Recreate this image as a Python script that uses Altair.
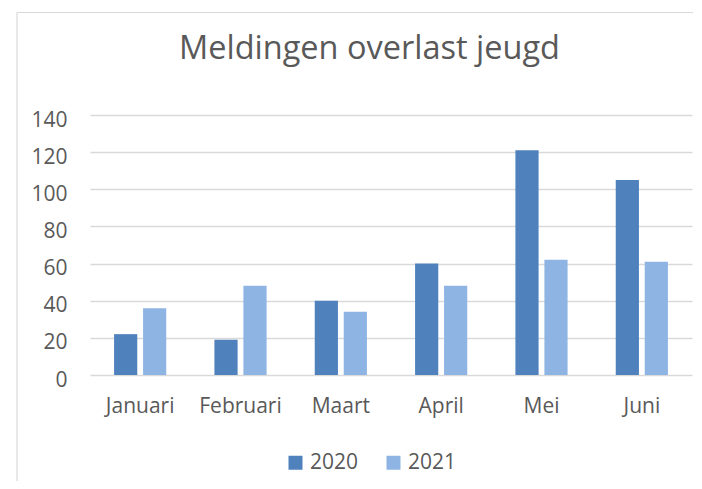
import altair as alt
import pandas as pd

months = ["Januari", "Februari", "Maart", "April", "Mei", "Juni"]
values_2020 = [22, 19, 40, 60, 121, 105]
values_2021 = [36, 48, 34, 48, 62, 61]
years = ["2020", "2021"]
colors = ["#4F81BD", "#8EB4E3"]
y_ticks = [0, 20, 40, 60, 80, 100, 120, 140]
title_text = ["Meldingen overlast jeugd"]

rows = []
for m, a, b in zip(months, values_2020, values_2021):
    rows.append({"maand": m, "jaar": "2020", "aantal": a})
    rows.append({"maand": m, "jaar": "2021", "aantal": b})
df = pd.DataFrame(rows)

FONT = "Open Sans"
TXT = "#595959"
GRID = "#D9D9D9"

bars = alt.Chart(df).mark_bar().encode(
    x=alt.X("maand:N", sort=months, title=None,
            scale=alt.Scale(paddingInner=0.48, paddingOuter=0.24),
            axis=alt.Axis(labelAngle=0, domain=False, ticks=False, tickSize=0,
                          labelPadding=20, labelFontSize=21, labelColor=TXT,
                          labelFont=FONT, grid=False)),
    xOffset=alt.XOffset("jaar:N", sort=years,
                        scale=alt.Scale(paddingInner=0.2, paddingOuter=0)),
    y=alt.Y("aantal:Q", title=None,
            scale=alt.Scale(domain=[0, 140], nice=False),
            axis=alt.Axis(values=y_ticks, domain=False, ticks=False, tickSize=0,
                          labelPadding=23, labelFontSize=21, labelColor=TXT,
                          labelFont=FONT, labelOffset=5,
                          grid=True, gridColor=GRID, gridWidth=1.5)),
    color=alt.Color("jaar:N", sort=years,
                    scale=alt.Scale(domain=years, range=colors),
                    legend=alt.Legend(title=None, orient="none", direction="horizontal",
                                      legendX=195, legendY=337,
                                      symbolType="square", symbolSize=196,
                                      symbolStrokeWidth=0, labelFontSize=21,
                                      labelColor=TXT, labelFont=FONT,
                                      labelOffset=4, columnPadding=24, padding=0)),
)

frame_v = alt.Chart(pd.DataFrame({"k": [0]})).mark_rule(color=GRID, strokeWidth=1.2).encode(
    x=alt.value(-73), y=alt.value(-102.5), y2=alt.value(400)
)
frame_h = alt.Chart(pd.DataFrame({"k": [0]})).mark_rule(color=GRID, strokeWidth=1.2).encode(
    x=alt.value(-73), x2=alt.value(603), y=alt.value(-102.5)
)

title = alt.Chart(pd.DataFrame({"t": title_text})).mark_text(
    font=FONT, fontSize=32.5, color=TXT, align="center", baseline="alphabetic"
).encode(text="t:N", x=alt.value(279.5), y=alt.value(-56.5))

chart = alt.layer(frame_v, frame_h, title, bars).properties(
    width=602,
    height=260,
    padding={"left": 82, "top": 107, "right": 2, "bottom": 106},
    autosize=alt.AutoSizeParams(type="none"),
).configure_view(stroke=None)

chart.save("out.html", embed_options={"renderer": "svg", "actions": False})
